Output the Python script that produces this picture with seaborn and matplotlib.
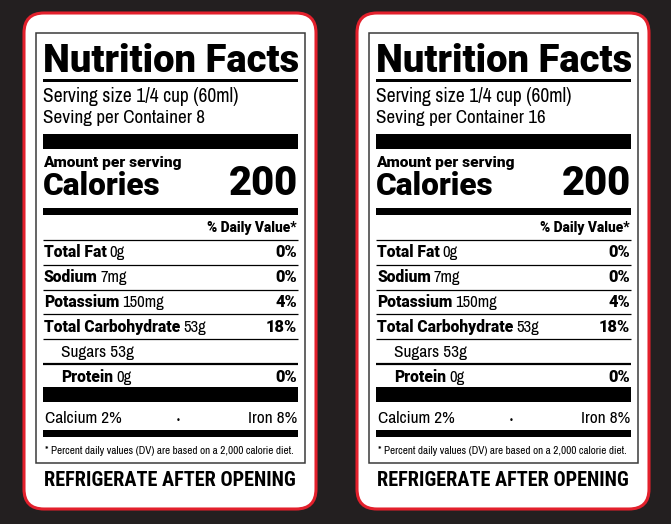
import matplotlib
matplotlib.use("Agg")
import matplotlib.pyplot as plt
from matplotlib import font_manager as fm
from matplotlib.patches import FancyBboxPatch, Rectangle
import seaborn as sns

# label values
containers = [8, 16]
serving_size = "1/4 cup (60ml)"
calories = 200
nutrients = ["Total Fat", "Sodium", "Potassium", "Total Carbohydrate", "Sugars", "Protein"]
amounts = ["0g", "7mg", "150mg", "53g", "53g", "0g"]
daily = ["0%", "0%", "4%", "18%", "", "0%"]
bold_label = [True, True, True, True, False, True]
indented = [False, False, False, False, True, True]
calcium = "2%"
iron = "8%"
footnote = "* Percent daily values (DV) are based on a 2,000 calorie diet."
storage = "REFRIGERATE AFTER OPENING"

sns.set_theme(style="white")
plt.rcParams["font.family"] = ["Archivo Narrow", "DejaVu Sans"]

BG = "#231f20"
RED = "#e3202c"

# pick the heavy face by file so the result does not depend on font cache order
cands = sorted(f.fname for f in fm.fontManager.ttflist
               if f.name == "Roboto" and f.weight in (900, "black", "heavy"))
cond = [c for c in cands if "ondensed" in c]
if cands:
    HEAVY = dict(fontproperties=fm.FontProperties(fname=(cond or cands)[0]))
else:
    HEAVY = dict(family=["Roboto", "DejaVu Sans"], weight=900)
COND = dict(family=["Archivo Narrow", "DejaVu Sans"])

fig = plt.figure(figsize=(6.71, 5.24), dpi=100, facecolor=BG)
ax = fig.add_axes([0, 0, 1, 1])
ax.set_xlim(0, 671)
ax.set_ylim(524, 0)
ax.axis("off")
ax.set_facecolor(BG)
r = fig.canvas.get_renderer()


def put(x, y, s, width=None, size=10, ha="left", **kw):
    t = ax.text(x, y, s, ha=ha, va="baseline", color="black", **kw)
    t.set_fontsize(size)
    if width:
        w = t.get_window_extent(renderer=r).width
        t.set_fontsize(size * width / w)
    return t


def right_of(t):
    return t.get_window_extent(renderer=r).x1


# one common size for the bold nutrient names, from the longest one
probe = put(0, -50, "Total Carbohydrate", width=136, size=11, **HEAVY)
LABEL_SIZE = probe.get_fontsize()
probe.remove()


def card(ox, n):
    ax.add_patch(FancyBboxPatch((ox, 13), 292, 496, boxstyle="round,pad=0,rounding_size=20",
                                fc="white", ec=RED, lw=2.2))
    ax.add_patch(Rectangle((ox + 12, 33), 269, 430, fc="none", ec="#3a3a3a", lw=1.1))
    x0, x1 = ox + 19, ox + 274
    w = x1 - x0

    put(x0, 72, "Nutrition Facts", width=w, size=30, **HEAVY)
    ax.add_patch(Rectangle((x0, 79), w, 2.5, fc="black", lw=0))
    put(x0, 102, f"Serving size {serving_size}", width=195, size=14, **COND)
    put(x0, 123, f"Seving per Container {n}", width=162 if n < 10 else 170, size=14, **COND)
    ax.add_patch(Rectangle((x0, 134), w, 15, fc="black", lw=0))

    put(x0, 167, "Amount per serving", width=138, size=10, **HEAVY)
    put(x0, 195, "Calories", width=117, size=22, **HEAVY)
    put(x1, 195, str(calories), width=69, size=26, ha="right", **HEAVY)
    ax.add_patch(Rectangle((x0, 208), w, 7, fc="black", lw=0))
    put(x1 - 1, 232, "% Daily Value*", width=90, size=9, ha="right", **HEAVY)

    for i, (name, amt, dv) in enumerate(zip(nutrients, amounts, daily)):
        y_line = 240 + 24.8 * i
        lw = 1.6 if i == 5 else 0.9
        ax.hlines(y_line, x0, x1, color="black", lw=lw)
        base = 257 + 25 * i
        lx = x0 + (18 if indented[i] else 1)
        if bold_label[i]:
            t = put(lx, base, name, size=LABEL_SIZE, **HEAVY)
            put(right_of(t) + 3, base, amt, size=12, **COND)
        else:
            put(lx, base, f"{name} {amt}", size=12.5, **COND)
        if dv:
            put(x1 - 1, base, dv, size=LABEL_SIZE * 1.05, ha="right", **HEAVY)

    ax.add_patch(Rectangle((x0, 387), w, 15, fc="black", lw=0))
    put(x0 + 2, 423, f"Calcium {calcium}", size=12.5, **COND)
    put(ox + 154, 423, "•", size=6, ha="center", family="DejaVu Sans")
    put(x1 - 1, 423, f"Iron {iron}", size=12.5, ha="right", **COND)
    ax.add_patch(Rectangle((x0, 430), w, 7, fc="black", lw=0))
    put(x0 + 2, 454, footnote, width=250, size=7, **COND)

    put(x0 + 1, 486, storage, width=252, size=13,
        family=["Roboto Condensed", "DejaVu Sans"], weight=600)


for ox, n in zip([24, 357], containers):
    card(ox, n)

fig.savefig("out.png", dpi=100, facecolor=BG)
